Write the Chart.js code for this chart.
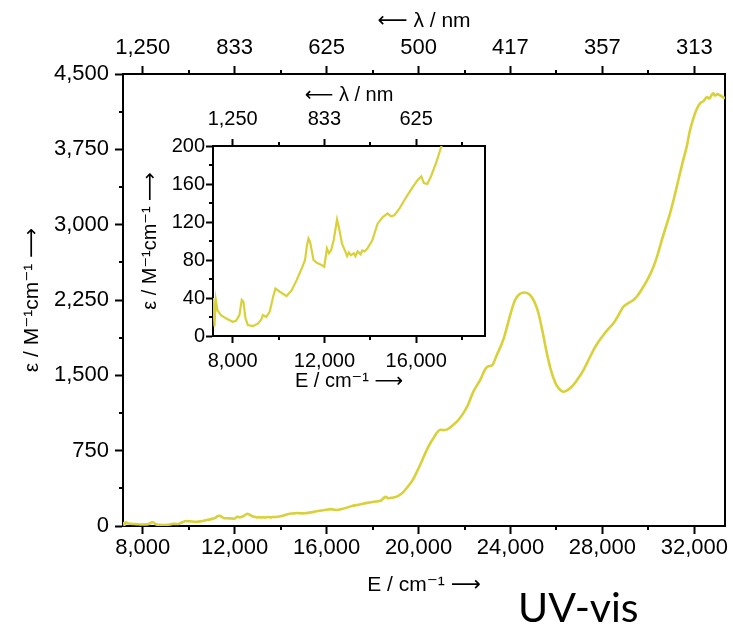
<!DOCTYPE html>
<html>
<head>
<meta charset="utf-8">
<script src="https://cdn.jsdelivr.net/npm/chart.js@4.4.1/dist/chart.umd.min.js"></script>
<style>
  html, body { margin: 0; padding: 0; background: #fff; }
  #wrap { position: relative; width: 733px; height: 629px; overflow: hidden; }
  #main { position: absolute; left: 0; top: 0; }
  #inset { position: absolute; left: 120px; top: 70px; }
  #label { position: absolute; left: 518px; top: 586px; font-family: Lato, 'Open Sans', sans-serif; font-size: 41px; line-height: 1; color: #000; }
</style>
</head>
<body>
<div id="wrap">
  <canvas id="main" width="733" height="629"></canvas>
  <canvas id="inset" width="370" height="330"></canvas>
  <div id="label">UV-vis</div>
</div>
<script>
// spectrum, E in cm-1, epsilon in M-1 cm-1
const energy = [
  7150, 7207, 7266, 7339, 7486, 7706, 8000, 8147, 8294, 8396, 8470, 8558, 8661, 8881,
  9101, 9248, 9321, 9468, 9615, 9762, 9864, 10055, 10349, 10569, 10789, 11009, 11156,
  11230, 11303, 11376, 11523, 11670, 11890, 11993, 12110, 12198, 12287, 12404, 12551,
  12624, 12771, 12918, 12990, 13065, 13150, 13285, 13350, 13450, 13578, 13650, 13750,
  13872, 14092, 14312, 14533, 14753, 14900, 15046, 15267, 15560, 15854, 16074, 16221,
  16338, 16485, 16661, 16881, 17102, 17400, 17768, 18057, 18348, 18565, 18709, 18857,
  19074, 19300, 19509, 19750, 19950, 20150, 20304, 20500, 20665, 20800, 20957, 21100,
  21248, 21500, 21752, 22117, 22391, 22696, 22900, 23043, 23200, 23400, 23696, 24000,
  24200, 24400, 24620, 24800, 24950, 25100, 25217, 25400, 25583, 25750, 25943, 26100,
  26304, 26500, 26739, 26950, 27174, 27400, 27609, 27800, 28043, 28250, 28478, 28700,
  28913, 29100, 29348, 29550, 29783, 30000, 30220, 30400, 30583, 30750, 30943, 31100,
  31304, 31500, 31667, 31800, 31957, 32100, 32248, 32400, 32550, 32650, 32750, 32826,
  32900, 33000, 33100, 33200, 33333
];
const epsilon = [
  40, 10, 38, 27, 22, 18.6, 15, 16, 22, 38, 36, 18.6, 11.6, 10.5,
  13, 17.5, 22, 20, 25.6, 41, 50, 46.6, 42, 48, 58.8, 71, 80,
  94, 102.6, 99, 80, 77, 74.6, 72.9, 92, 87, 90, 101, 122.6,
  115, 97, 88.6, 84, 88, 85, 87, 84, 89, 86, 90, 89,
  92, 101, 118, 125, 129, 126, 127, 134, 146, 157, 164.6, 168,
  161, 160, 169, 183, 200, 212, 230, 242, 252, 290, 276, 282,
  295, 330, 385, 460, 550, 650, 730, 820, 880, 930, 958, 955,
  962, 1005, 1060, 1190, 1340, 1460, 1560, 1590, 1600, 1700, 1860, 2110,
  2250, 2310, 2325, 2310, 2270, 2200, 2118, 1930, 1719, 1560, 1430, 1370,
  1337, 1355, 1404, 1470, 1553, 1655, 1752, 1825, 1902, 1960, 2018, 2100,
  2183, 2215, 2250, 2300, 2383, 2470, 2582, 2700, 2847, 2970, 3113, 3250,
  3445, 3630, 3777, 3930, 4059, 4150, 4208, 4230, 4270, 4255, 4290, 4308,
  4285, 4300, 4290, 4275, 4258
];

// main axes
const majorE = [8000, 12000, 16000, 20000, 24000, 28000, 32000];
const minorE = [10000, 14000, 18000, 22000, 26000, 30000];
const lambdaLabels = ['1,250', '833', '625', '500', '417', '357', '313'];
const epsTicks = [0, 750, 1500, 2250, 3000, 3750, 4500];
const epsMinor = [375, 1125, 1875, 2625, 3375, 4125];

// inset axes
const insetMajorE = [8000, 12000, 16000];
const insetMinorE = [10000, 14000, 18000];
const insetLambdaLabels = ['1,250', '833', '625'];
const insetEpsTicks = [0, 40, 80, 120, 160, 200];
const insetEpsMinor = [20, 60, 100, 140, 180];

const lineColor = '#d8d13a';
Chart.defaults.font.family = "'Liberation Sans', Arial, 'DejaVu Sans', sans-serif";
Chart.defaults.color = '#000';

const points = energy.map((e, i) => ({ x: e, y: epsilon[i] }));

// short ticks between the labelled ones
const minorTicks = {
  id: 'minorTicks',
  afterDraw(chart, args, opts) {
    const ctx = chart.ctx;
    ctx.save();
    ctx.strokeStyle = '#000';
    ctx.lineWidth = opts.width;
    Object.keys(opts.axes).forEach(id => {
      const s = chart.scales[id];
      opts.axes[id].forEach(v => {
        const p = Math.round(s.getPixelForValue(v));
        ctx.beginPath();
        if (s.position === 'bottom') { ctx.moveTo(p, s.top); ctx.lineTo(p, s.top + opts.length); }
        if (s.position === 'top') { ctx.moveTo(p, s.bottom); ctx.lineTo(p, s.bottom - opts.length); }
        if (s.position === 'left') { ctx.moveTo(s.right, p); ctx.lineTo(s.right - opts.length, p); }
        ctx.stroke();
      });
    });
    ctx.restore();
  }
};

function setTicks(values) {
  return s => { s.ticks = values.map(v => ({ value: v })); };
}
function fmt(v) { return v.toLocaleString('en-US'); }

function axisGrid(len) {
  return { display: true, drawOnChartArea: false, drawTicks: true, tickLength: len, tickWidth: 2, tickColor: '#000' };
}
const axisBorder = { display: true, color: '#000', width: 2 };

// main chart
new Chart(document.getElementById('main'), {
  type: 'line',
  data: {
    datasets: [{
      data: points,
      borderColor: lineColor,
      borderWidth: 2.6,
      pointRadius: 0,
      cubicInterpolationMode: 'monotone',
      fill: false
    }]
  },
  options: {
    responsive: false,
    animation: false,
    events: [],
    layout: { padding: { left: 0, right: 8, top: 0, bottom: 0 } },
    plugins: {
      legend: { display: false },
      tooltip: { enabled: false },
      minorTicks: { length: 4, width: 2, axes: { x: minorE, x2: minorE, y: epsMinor } }
    },
    scales: {
      x: {
        type: 'linear', position: 'bottom', min: 7143, max: 33333,
        afterBuildTicks: setTicks(majorE),
        afterFit: s => { s.height = 103; },
        ticks: { callback: v => fmt(v), font: { size: 22 }, padding: 1, maxRotation: 0, autoSkip: false },
        grid: axisGrid(8),
        border: axisBorder,
        title: { display: true, text: 'E / cm⁻¹ ⟶', font: { size: 21 }, padding: { top: 0, bottom: 31 } }
      },
      x2: {
        type: 'linear', position: 'top', min: 7143, max: 33333,
        afterBuildTicks: setTicks(majorE),
        afterFit: s => { s.height = 74; },
        ticks: { callback: (v, i) => lambdaLabels[i], font: { size: 22 }, padding: 5, maxRotation: 0, autoSkip: false },
        grid: axisGrid(8),
        border: axisBorder,
        title: { display: true, text: '⟵ λ / nm', font: { size: 21 }, padding: { top: 9, bottom: 0 } }
      },
      y: {
        type: 'linear', position: 'left', min: 0, max: 4500,
        afterBuildTicks: setTicks(epsTicks),
        afterFit: s => { s.width = 123; },
        ticks: { callback: v => fmt(v), font: { size: 22 }, padding: 6 },
        grid: axisGrid(8),
        border: axisBorder,
        title: { display: true, text: 'ε / M⁻¹cm⁻¹ ⟶', font: { size: 21 }, padding: { top: 20, bottom: 0 } }
      },
      y2: {
        type: 'linear', position: 'right', min: 0, max: 4500,
        afterFit: s => { s.width = 0; },
        ticks: { display: false },
        grid: { display: false },
        border: axisBorder
      }
    }
  },
  plugins: [minorTicks]
});

// inset, low energy part of the same spectrum
new Chart(document.getElementById('inset'), {
  type: 'line',
  data: {
    datasets: [{
      data: points,
      borderColor: lineColor,
      borderWidth: 2.2,
      pointRadius: 0,
      tension: 0,
      fill: false
    }]
  },
  options: {
    responsive: false,
    animation: false,
    events: [],
    layout: { padding: { left: 0, right: 5, top: 0, bottom: 0 } },
    plugins: {
      legend: { display: false },
      tooltip: { enabled: false },
      minorTicks: { length: 4, width: 2, axes: { x: insetMinorE, x2: insetMinorE, y: insetEpsMinor } }
    },
    scales: {
      x: {
        type: 'linear', position: 'bottom', min: 7143, max: 19000,
        afterBuildTicks: setTicks(insetMajorE),
        afterFit: s => { s.height = 64; },
        ticks: { callback: v => fmt(v), font: { size: 20 }, padding: 6, maxRotation: 0, autoSkip: false },
        grid: axisGrid(7),
        border: axisBorder,
        title: { display: true, text: 'E / cm⁻¹ ⟶', font: { size: 20 }, padding: { top: 0, bottom: 7 } }
      },
      x2: {
        type: 'linear', position: 'top', min: 7143, max: 19000,
        afterBuildTicks: setTicks(insetMajorE),
        afterFit: s => { s.height = 76; },
        ticks: { callback: (v, i) => insetLambdaLabels[i], font: { size: 20 }, padding: 8, maxRotation: 0, autoSkip: false },
        grid: axisGrid(7),
        border: axisBorder,
        title: { display: true, text: '⟵ λ / nm', font: { size: 20 }, padding: { top: 13, bottom: 0 } }
      },
      y: {
        type: 'linear', position: 'left', min: 0, max: 200,
        afterBuildTicks: setTicks(insetEpsTicks),
        afterFit: s => { s.width = 93; },
        ticks: { callback: v => fmt(v), font: { size: 20 }, padding: 1 },
        grid: axisGrid(7),
        border: axisBorder,
        title: { display: true, text: 'ε / M⁻¹cm⁻¹ ⟶', font: { size: 20 }, padding: { top: 18, bottom: 0 } }
      },
      y2: {
        type: 'linear', position: 'right', min: 0, max: 200,
        afterFit: s => { s.width = 0; },
        ticks: { display: false },
        grid: { display: false },
        border: axisBorder
      }
    }
  },
  plugins: [minorTicks]
});
</script>
</body>
</html>
